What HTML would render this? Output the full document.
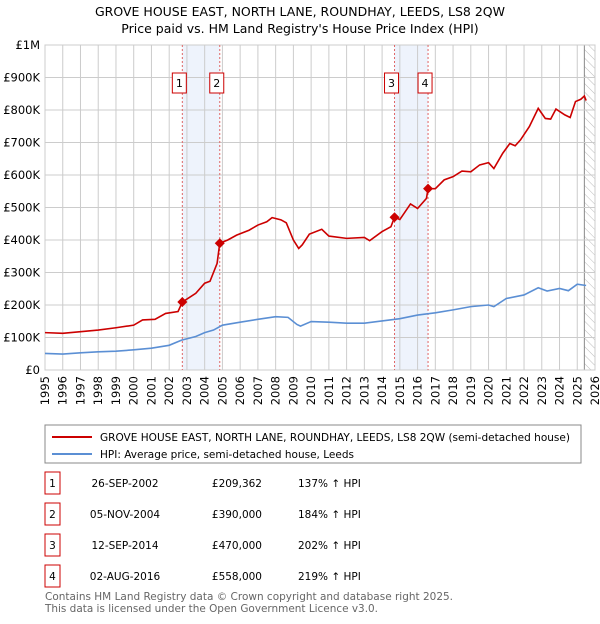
<!DOCTYPE html>
<html><head><meta charset="utf-8"><style>
body{margin:0;background:#fff;font-family:"DejaVu Sans","Liberation Sans",sans-serif;}
svg text{font-family:"DejaVu Sans","Liberation Sans",sans-serif;}
</style></head><body>
<svg id="chart" width="600" height="620" xmlns="http://www.w3.org/2000/svg">
<defs><pattern id="hatch" width="6" height="6" patternUnits="userSpaceOnUse" patternTransform="rotate(-45)"><line x1="0" y1="0" x2="0" y2="6" stroke="#bbb" stroke-width="1"/></pattern></defs>
<text x="300" y="16" text-anchor="middle" font-size="12.5">GROVE HOUSE EAST, NORTH LANE, ROUNDHAY, LEEDS, LS8 2QW</text>
<text x="300" y="33" text-anchor="middle" font-size="12.5">Price paid vs. HM Land Registry's House Price Index (HPI)</text>
<g id="grid"></g><g id="marks"></g><g id="axes"></g>
<rect x="45" y="425" width="536" height="38" fill="#fff" stroke="#888"/>
<line x1="52" y1="437" x2="92" y2="437" stroke="#cc0000" stroke-width="2"/>
<text x="100" y="441" font-size="10.5" textLength="470" lengthAdjust="spacingAndGlyphs">GROVE HOUSE EAST, NORTH LANE, ROUNDHAY, LEEDS, LS8 2QW (semi-detached house)</text>
<line x1="52" y1="454" x2="92" y2="454" stroke="#5b8fd4" stroke-width="2"/>
<text x="100" y="458" font-size="10.5">HPI: Average price, semi-detached house, Leeds</text>
<g id="table"></g>
<text x="45" y="600" font-size="11" fill="#666" textLength="408" lengthAdjust="spacingAndGlyphs">Contains HM Land Registry data © Crown copyright and database right 2025.</text>
<text x="45" y="612" font-size="11" fill="#666" textLength="333" lengthAdjust="spacingAndGlyphs">This data is licensed under the Open Government Licence v3.0.</text>
</svg>
<script>
const yTicks=[0,100000,200000,300000,400000,500000,600000,700000,800000,900000,1000000];
const yTickLabels=["£0","£100K","£200K","£300K","£400K","£500K","£600K","£700K","£800K","£900K","£1M"];
const redYears=[1995,1996,1997,1998,1999,2000,2000.5,2001.2,2001.8,2002.5,2002.74,2003.5,2004,2004.3,2004.7,2004.85,2005.3,2005.8,2006.5,2007,2007.5,2007.8,2008.3,2008.6,2009,2009.3,2009.5,2009.9,2010.6,2011,2012,2013,2013.3,2014,2014.5,2014.7,2015,2015.6,2016,2016.5,2016.59,2017,2017.5,2018,2018.5,2019,2019.5,2020,2020.3,2020.8,2021.2,2021.5,2021.8,2022.3,2022.8,2023.2,2023.5,2023.8,2024.3,2024.6,2024.9,2025.2,2025.4,2025.5];
const redValues=[115,113,118,123,130,138,154,156,174,180,209,236,267,273,328,390,400,415,430,446,456,469,462,453,400,374,385,418,433,412,405,408,398,426,441,470,463,511,497,528,558,558,585,595,612,610,631,638,620,667,697,690,708,749,805,774,772,803,785,777,826,833,843,829];
const hpiYears=[1995,1996,1997,1998,1999,2000,2001,2002,2002.7,2003.5,2004,2004.5,2005,2006,2007,2008,2008.7,2009.2,2009.4,2010,2011,2012,2013,2014,2015,2016,2017,2018,2019,2020,2020.3,2021,2022,2022.8,2023.3,2024,2024.5,2025,2025.5];
const hpiValues=[51,49,53,56,58,62,67,76,92,103,115,123,138,147,156,164,162,140,135,149,147,144,144,151,158,169,176,185,195,200,195,220,231,253,243,251,244,264,260];
const saleYears=[2002.74,2004.85,2014.70,2016.59];
const saleValues=[209362,390000,470000,558000];
const saleLabels=["1","2","3","4"];
const saleDates=["26-SEP-2002","05-NOV-2004","12-SEP-2014","02-AUG-2016"];
const salePrices=["£209,362","£390,000","£470,000","£558,000"];
const saleHpi=["137% ↑ HPI","184% ↑ HPI","202% ↑ HPI","219% ↑ HPI"];
const xYears=[];for(let y=1995;y<=2026;y++)xYears.push(y);
const X0=45,X1=595,Y0=370,Y1=45,NS="http://www.w3.org/2000/svg";
const xs=y=>X0+(y-1995)/(31)*(X1-X0);
const ys=v=>Y0-v/1000000*(Y0-Y1);
function mk(p,t,a){const e=document.createElementNS(NS,t);for(const k in a)e.setAttribute(k,a[k]);p.appendChild(e);return e;}
const grid=document.getElementById('grid'),marks=document.getElementById('marks'),axes=document.getElementById('axes'),table=document.getElementById('table');
mk(grid,'rect',{x:X0,y:Y1,width:X1-X0,height:Y0-Y1,fill:'#fff',stroke:'#ccc'});
for(let i=0;i<4;i+=2){const r=mk(grid,'rect',{x:xs(saleYears[i]),y:Y1,width:xs(saleYears[i+1])-xs(saleYears[i]),height:Y0-Y1,fill:'#eef3fc'});

}
const hx=xs(2025.4);
const hr=mk(grid,'rect',{x:hx,y:Y1,width:X1-hx,height:Y0-Y1,fill:'url(#hatch)'});


mk(grid,'line',{x1:hx,y1:Y1,x2:hx,y2:Y0,stroke:'#888'});
xYears.forEach(y=>{mk(grid,'line',{x1:xs(y),y1:Y1,x2:xs(y),y2:Y0,stroke:'#ccc'});
const t=mk(axes,'text',{x:0,y:0,'font-size':11.5,'text-anchor':'end',transform:`translate(${xs(y)+4},${Y0+6}) rotate(-90)`});t.textContent=y;

});
yTicks.forEach((v,i)=>{mk(grid,'line',{x1:X0,y1:ys(v),x2:X1,y2:ys(v),stroke:'#ccc'});
const t=mk(axes,'text',{x:X0-5,y:ys(v)+4,'font-size':11.5,'text-anchor':'end'});t.textContent=yTickLabels[i];

});
saleYears.forEach((y,i)=>{
const l=mk(marks,'line',{x1:xs(y),y1:Y1,x2:xs(y),y2:Y0,stroke:'#e06666','stroke-dasharray':'2,2'});


const b=mk(marks,'rect',{x:xs(y)-10,y:73,width:14,height:20,fill:'#fff',stroke:'#c00'});


const t=mk(marks,'text',{x:xs(y)-3,y:87,'font-size':11,'text-anchor':'middle'});t.textContent=saleLabels[i];

});
const hp=mk(marks,'polyline',{points:hpiYears.map((y,i)=>xs(y)+','+ys(hpiValues[i]*1000)).join(' '),fill:'none',stroke:'#5b8fd4','stroke-width':1.6});


const rp=mk(marks,'polyline',{points:redYears.map((y,i)=>xs(y)+','+ys(redValues[i]*1000)).join(' '),fill:'none',stroke:'#cc0000','stroke-width':1.6});


saleYears.forEach((y,i)=>{const cx=xs(y),cy=ys(saleValues[i]);
const d=mk(marks,'polygon',{points:`${cx},${cy-5} ${cx+5},${cy} ${cx},${cy+5} ${cx-5},${cy}`,fill:'#cc0000'});

});
saleLabels.forEach((s,i)=>{const y=482+i*31;
const b=mk(table,'rect',{x:45,y:y-10,width:15,height:22,fill:'#fff',stroke:'#c00'});


const cells=[[52.5,'middle',s],[125,'middle',saleDates[i]],[262,'end',salePrices[i]],[298,'start',saleHpi[i]]];
cells.forEach(c=>{const t=mk(table,'text',{x:c[0],y:y+5,'font-size':10.5,'text-anchor':c[1]});t.textContent=c[2];

});});
</script>
</body></html>
